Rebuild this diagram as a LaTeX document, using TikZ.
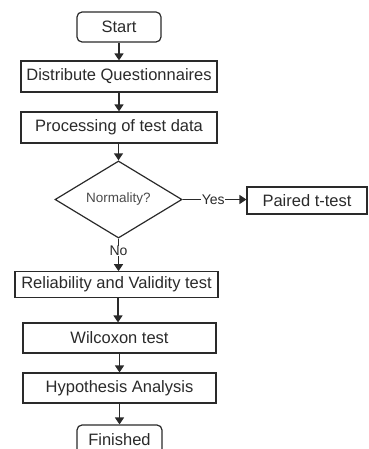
\documentclass[tikz,border=0pt]{standalone}
\usepackage{fontspec}
\setmainfont{Liberation Sans}
\usetikzlibrary{shapes.geometric,arrows.meta}
\definecolor{ink}{HTML}{2A2A2A}
\tikzset{
  box/.style={draw=ink, line width=1.2pt, rectangle, inner sep=0pt, text=ink,
    font=\fontsize{16.5}{19}\selectfont},
  term/.style={box, rounded corners=5pt},
  decide/.style={draw=ink, line width=1.2pt, diamond, inner sep=0pt, text=ink!85,
    font=\fontsize{13.5}{16}\selectfont},
  conn/.style={draw=ink, line width=1.4pt, -{Triangle[length=7pt,width=9pt]}},
  lbl/.style={fill=white, inner sep=0.5pt, text=ink, font=\fontsize{14}{16}\selectfont}
}
\begin{document}
\begin{tikzpicture}[x=1pt,y=1pt]
\useasboundingbox (0,0) rectangle (368,-449);
\clip (0,0) rectangle (368,-449);
\node[term, minimum width=84pt, minimum height=30pt] (start) at (119,-27) {Start};
\node[box, minimum width=196pt, minimum height=31pt] (dist) at (119,-76.5) {Distribute Questionnaires};
\node[box, minimum width=196pt, minimum height=31pt] (proc) at (119,-127.5) {Processing of test data};
\node[decide, minimum width=127pt, minimum height=66pt] (norm) at (118.5,-199.5) {Normality?};
\node[box, minimum width=120pt, minimum height=27pt] (paired) at (307,-200.5) {Paired t-test};
\node[box, minimum width=203pt, minimum height=25.5pt] (rel) at (116.5,-284.5) {Reliability and Validity test};
\node[box, minimum width=193pt, minimum height=30pt] (wil) at (119.5,-338) {Wilcoxon test};
\node[box, minimum width=193pt, minimum height=30pt] (hyp) at (119.5,-388) {Hypothesis Analysis};
\node[term, minimum width=85pt, minimum height=30pt] (fin) at (119.5,-440) {Finished};

\draw[conn] (start.south) -- (start.south |- dist.north);
\draw[conn] (dist.south) -- (dist.south |- proc.north);
\draw[conn] (proc.south) -- (proc.south -| norm.north) -- (norm.north);
\draw[conn] (norm.east) -- node[lbl, pos=0.48] (yes) {Yes} (norm.east -| paired.west);
\draw[conn] (norm.south) -- node[lbl, pos=0.38] (no) {No} (norm.south |- rel.north);
\draw[conn] (rel.south -| wil.north) ++(-1.5,0) coordinate (r1) -- (r1 |- wil.north);
\draw[conn] (wil.south) -- (wil.south |- hyp.north);
\draw[conn] (hyp.south) -- (hyp.south |- fin.north);
\end{tikzpicture}
\end{document}
